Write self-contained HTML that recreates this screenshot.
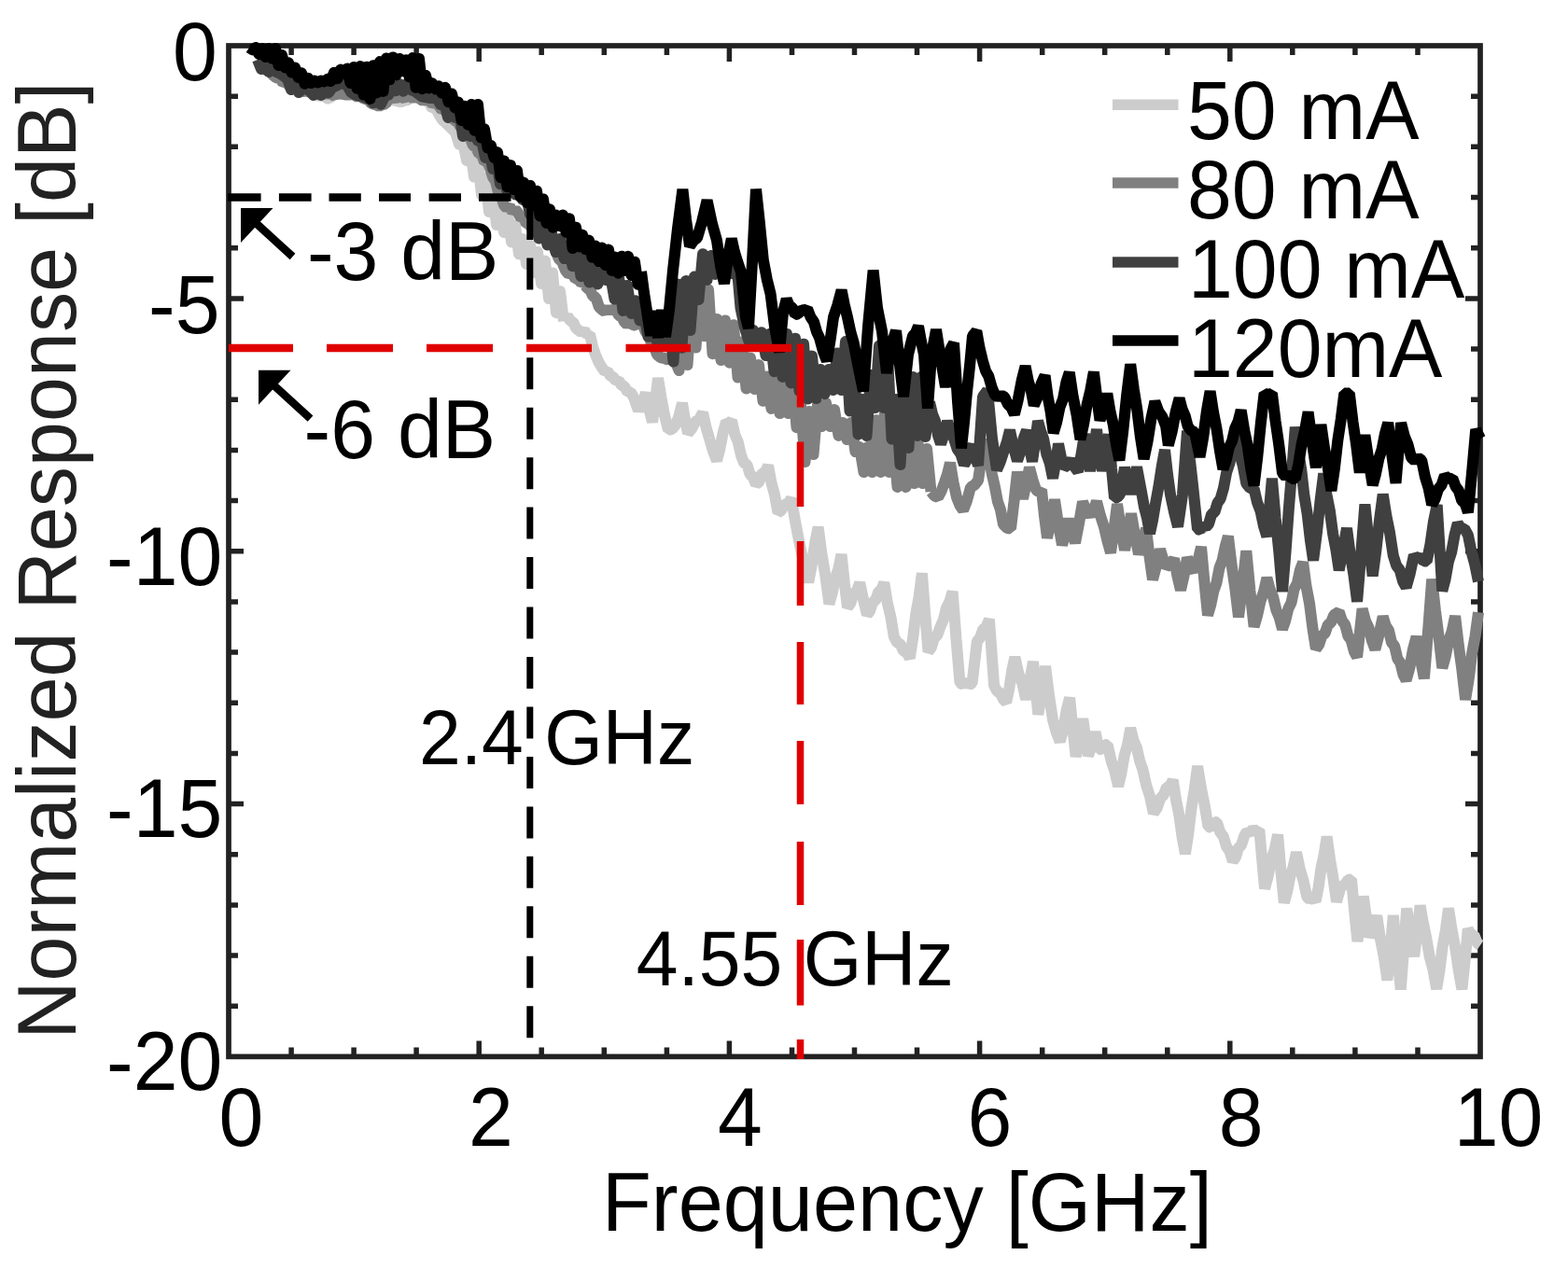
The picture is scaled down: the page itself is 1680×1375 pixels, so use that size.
<!DOCTYPE html><html><head><meta charset="utf-8"><title>Normalized Response vs Frequency</title>
<style>html,body{margin:0;padding:0;background:#fff;}svg{display:block;}</style></head><body>
<svg width="1680" height="1375" viewBox="0 0 1680 1375" font-family="&quot;Liberation Sans&quot;, Arial, Helvetica, sans-serif">
<rect width="1680" height="1375" fill="#fff"/>
<g stroke="#222222" stroke-width="5.7" fill="none">
<rect x="245.0" y="49.0" width="1341.0" height="1083.4"/>
<path d="M312.1,1132.4V1122.4M312.1,49.0V59.0M379.1,1132.4V1122.4M379.1,49.0V59.0M446.1,1132.4V1122.4M446.1,49.0V59.0M513.2,1132.4V1115.4M513.2,49.0V66.0M580.2,1132.4V1122.4M580.2,49.0V59.0M647.3,1132.4V1122.4M647.3,49.0V59.0M714.4,1132.4V1122.4M714.4,49.0V59.0M781.4,1132.4V1115.4M781.4,49.0V66.0M848.5,1132.4V1122.4M848.5,49.0V59.0M915.5,1132.4V1122.4M915.5,49.0V59.0M982.5,1132.4V1122.4M982.5,49.0V59.0M1049.6,1132.4V1115.4M1049.6,49.0V66.0M1116.7,1132.4V1122.4M1116.7,49.0V59.0M1183.7,1132.4V1122.4M1183.7,49.0V59.0M1250.8,1132.4V1122.4M1250.8,49.0V59.0M1317.8,1132.4V1115.4M1317.8,49.0V66.0M1384.8,1132.4V1122.4M1384.8,49.0V59.0M1451.9,1132.4V1122.4M1451.9,49.0V59.0M1519.0,1132.4V1122.4M1519.0,49.0V59.0M245.0,103.2H255.0M1586.0,103.2H1576.0M245.0,157.3H255.0M1586.0,157.3H1576.0M245.0,211.5H255.0M1586.0,211.5H1576.0M245.0,265.7H255.0M1586.0,265.7H1576.0M245.0,319.9H261.0M1586.0,319.9H1570.0M245.0,374.0H255.0M1586.0,374.0H1576.0M245.0,428.2H255.0M1586.0,428.2H1576.0M245.0,482.4H255.0M1586.0,482.4H1576.0M245.0,536.5H255.0M1586.0,536.5H1576.0M245.0,590.7H261.0M1586.0,590.7H1570.0M245.0,644.9H255.0M1586.0,644.9H1576.0M245.0,699.0H255.0M1586.0,699.0H1576.0M245.0,753.2H255.0M1586.0,753.2H1576.0M245.0,807.4H255.0M1586.0,807.4H1576.0M245.0,861.6H261.0M1586.0,861.6H1570.0M245.0,915.7H255.0M1586.0,915.7H1576.0M245.0,969.9H255.0M1586.0,969.9H1576.0M245.0,1024.1H255.0M1586.0,1024.1H1576.0M245.0,1078.2H255.0M1586.0,1078.2H1576.0" stroke-width="5.5"/>
</g>
<g fill="none" stroke-width="12" stroke-linecap="butt">
<polyline stroke="#cccccc" stroke-linejoin="bevel" points="281.0,66.0 284.0,70.8 287.0,69.7 290.0,75.0 293.3,78.6 296.7,78.1 300.0,82.0 303.3,86.5 306.7,83.9 310.0,88.0 313.3,91.4 316.7,90.3 320.0,94.0 323.0,97.5 326.0,94.6 329.0,98.9 332.0,96.4 335.0,100.0 338.0,102.5 341.0,100.1 344.0,105.2 347.0,102.4 350.0,105.3 353.3,106.0 356.7,100.3 360.0,100.0 363.3,101.7 366.7,97.9 370.0,99.0 373.3,101.8 376.7,98.2 380.0,100.0 383.0,102.7 386.0,99.3 389.0,104.8 392.0,101.8 395.0,104.0 398.3,107.8 401.7,104.6 405.0,108.3 408.0,108.8 411.0,103.8 414.0,106.4 417.0,103.7 421.0,107.3 425.0,108.0 429.0,109.5 433.0,108.0 437.0,107.1 441.0,103.0 444.0,102.1 447.0,96.7 452.0,102.0 456.0,107.8 460.0,110.0 463.3,116.5 466.7,115.6 470.0,122.0 474.0,128.5 478.0,132.0"/>
<polyline stroke="#cccccc" stroke-linejoin="round" points="478.0,132.0 488.0,142.0 492.0,154.7 496.0,151.3 500.0,172.0 504.0,160.8 508.0,189.6 512.0,172.6 516.0,209.0 520.0,191.0 524.0,227.0 528.0,207.0 532.0,241.0 536.0,218.8 540.0,249.0 544.0,229.6 548.0,259.4 552.0,241.6 556.0,272.2 560.0,256.0 564.0,283.0 568.0,262.4 572.0,292.0 576.0,270.0 580.0,304.0 584.0,279.6 588.0,320.0 592.0,292.5 596.0,335.2 600.0,312.2 604.0,344.2"/>
<polyline stroke="#cccccc" stroke-linejoin="bevel" points="604.0,344.2 608.0,338.1 611.0,344.1 614.0,344.8 617.0,351.6 620.0,354.0 623.0,356.5 626.0,353.8 629.0,359.1 632.0,358.0 635.0,371.4 638.0,380.0 641.5,388.4 645.0,394.0 648.0,398.3 651.0,397.7 654.0,403.0 657.0,404.0 660.0,408.4 663.0,407.7 666.0,413.0 669.0,414.0 672.3,420.1 675.7,420.1 679.0,426.0 684.0,439.9 688.0,432.0 692.0,421.1 695.5,438.7 699.0,452.3 702.0,431.0 705.0,405.2 708.5,426.3 712.0,445.0 716.0,460.9 720.0,460.2 724.0,455.0 727.5,445.7 731.0,432.1 734.0,449.8 737.0,464.3 741.0,459.6 745.0,452.0 749.0,449.6 753.0,442.2 756.5,457.8 760.0,470.0 764.0,483.3 768.0,493.8 771.3,481.2 774.7,463.6 778.0,452.0 781.0,453.5 784.0,450.9 787.3,465.5 790.7,473.5 794.0,488.0 797.2,496.2 800.4,498.0 803.6,508.5 806.8,511.0 810.0,519.2 813.2,516.4 816.5,507.0 819.8,506.2 823.0,498.8 826.5,517.6 830.0,530.4 833.5,549.4 837.1,547.0 840.7,540.3 844.3,539.7 847.9,534.3 851.8,557.3 855.7,577.6 859.2,594.6 862.7,607.2 866.2,624.0 869.7,605.9 873.1,582.6 876.6,564.9 880.5,594.1 884.5,618.1 888.4,647.3 891.7,635.5 895.0,619.2 898.2,609.9 901.5,594.2 904.8,624.7 908.0,651.1 911.3,646.5 914.6,636.3 917.9,633.3 921.2,624.5 925.1,643.1 929.0,658.9 932.0,654.9 935.1,644.9 938.1,643.7 941.2,634.0 944.2,632.4 947.3,624.5 950.8,646.1 954.3,660.8 957.8,682.3 961.2,688.5 964.6,690.3 968.0,697.8 971.4,699.2 974.8,705.4 978.1,684.2 981.3,657.5 984.6,639.5 987.9,614.4 991.2,658.1 994.5,698.5 997.8,693.9 1001.0,683.4 1004.2,680.9 1007.5,671.8 1010.8,664.2 1014.0,651.3 1017.3,645.0 1020.6,634.0 1024.5,684.9 1028.5,732.0 1031.8,733.6 1035.0,730.0 1038.3,734.4 1041.6,732.0 1046.8,687.5 1050.1,683.3 1053.3,674.1 1056.6,672.2 1059.9,663.8 1065.1,734.7 1068.4,741.1 1071.7,742.3 1074.9,749.4 1078.2,752.6 1081.3,737.9 1084.3,718.4 1087.4,704.3 1091.3,721.6 1095.3,732.5 1099.2,749.3 1103.1,730.5 1107.0,709.1 1112.3,765.7 1116.2,741.6 1120.1,714.1 1124.0,745.2 1128.0,771.3 1131.8,785.0 1135.7,794.8 1139.2,781.6 1142.6,761.2 1146.1,747.9 1149.4,780.6 1152.7,810.8 1156.5,792.8 1160.2,770.4 1165.9,809.9 1169.7,799.3 1173.5,784.5 1177.3,802.8 1180.4,803.2 1183.6,798.1 1186.7,798.2 1190.5,815.0 1194.3,826.4 1198.1,842.6 1201.4,828.8 1204.7,809.6 1208.0,798.3 1211.3,780.3 1214.6,793.8 1217.9,801.1 1221.2,815.8 1224.5,825.1 1228.3,842.1 1232.1,853.7 1235.9,871.5 1239.7,865.8 1243.4,855.3 1246.7,852.1 1250.1,843.6 1253.4,842.8 1256.7,836.0 1260.0,857.2 1263.3,873.3 1266.6,897.2 1269.9,915.0 1273.2,893.8 1276.5,866.2 1279.8,845.8 1283.1,821.1 1286.9,844.4 1290.7,863.1 1294.5,886.0 1297.6,886.9 1300.8,880.6 1303.9,881.4 1307.3,891.9 1310.7,896.3 1314.1,907.5 1317.5,912.2 1320.9,922.8 1323.9,918.9 1326.9,908.8 1330.0,905.7 1333.0,896.2 1336.0,891.2 1339.3,892.9 1342.7,888.0 1346.0,891.1 1349.3,889.2 1355.0,952.3 1358.5,939.7 1362.0,921.5 1365.6,910.5 1369.1,894.5 1372.4,933.3 1375.8,967.4 1379.1,955.7 1382.4,938.9 1385.7,928.8 1389.0,913.4 1392.8,931.5 1396.5,943.8 1400.3,961.2 1403.4,964.5 1406.5,962.0 1409.6,966.2 1412.6,950.9 1415.6,929.6 1418.6,916.0 1421.6,896.7 1425.1,921.3 1428.5,941.6 1432.0,966.3 1436.8,949.6 1440.5,948.9 1444.3,942.8 1448.0,942.4 1451.2,977.2 1454.4,1009.0 1457.6,986.4 1460.8,960.7 1464.0,983.7 1467.2,1004.1 1471.2,994.8 1475.2,981.5 1478.9,1006.0 1482.7,1025.1 1486.4,1050.5 1489.6,1018.1 1492.8,981.1 1496.8,1022.1 1500.8,1060.5 1504.0,1018.6 1507.2,973.5 1511.2,1001.3 1515.2,1024.9 1518.4,999.2 1521.6,970.5 1524.8,988.7 1528.0,1004.0 1531.7,1025.1 1535.5,1039.3 1539.2,1059.9 1542.4,1040.2 1545.6,1014.5 1548.8,997.4 1552.0,973.5 1555.6,996.6 1559.2,1015.4 1562.8,1040.2 1566.4,1060.1 1569.6,1029.6 1572.8,995.5 1576.1,1001.7 1579.4,1002.1 1582.7,1010.7 1586.0,1013.0"/>
<polyline stroke="#808080" stroke-linejoin="bevel" points="279.0,64.0 283.0,72.0 286.0,76.6 289.0,75.7 292.0,80.0 296.0,83.3 300.0,84.0 303.3,88.7 306.7,87.8 310.0,92.0 313.0,94.6 316.0,92.3 319.0,97.1 322.0,93.5 325.0,97.0 328.0,99.4 331.0,95.7 334.0,101.3 337.0,97.8 340.0,100.0 343.0,101.5 346.0,99.0 349.0,102.9 352.0,98.8 355.0,101.0 358.5,103.2 362.0,98.0 365.5,102.3 369.0,100.0 372.7,102.6 376.3,100.0 380.0,102.0 383.5,104.3 387.0,101.7 390.5,107.1 394.0,106.0 398.0,111.2 402.0,112.0 406.0,114.0 410.0,112.0 413.3,111.4 416.7,104.6 420.0,104.0 423.3,106.4 426.7,102.6 430.0,104.0 433.3,105.5 436.7,101.7 440.0,103.0 443.3,106.3 446.7,102.6 450.0,106.0 453.3,108.2 456.7,106.0 460.0,108.0 463.3,111.2 466.7,109.7 470.0,113.0 473.3,118.0 476.7,116.9 480.0,123.7 483.3,122.7 486.7,129.1 490.0,130.0 493.3,136.1 496.7,137.3 500.0,145.9 503.3,146.3 506.7,155.8 510.0,158.0 513.0,164.3 516.0,165.5 519.0,173.6 522.0,173.2 525.0,180.0 528.0,189.8 531.0,194.1 534.0,206.4 537.0,210.4 540.0,220.0 543.0,223.2 546.0,221.1 549.0,226.9 552.0,224.3 555.0,228.0 558.0,233.7 561.0,232.9 564.0,240.0 567.0,240.1 570.0,245.0 573.5,249.0 577.0,248.3 580.5,254.3 584.0,255.0 587.7,261.5 591.3,261.6 595.0,268.0 598.7,277.2 602.3,280.9 606.0,290.0 609.5,294.3 613.0,292.8 616.5,299.0 620.0,299.0 623.0,303.8 626.0,302.4 629.0,309.0 632.0,310.0 635.2,317.4 638.5,318.8 641.8,328.9 645.0,332.0 648.0,333.9 651.0,330.3 654.0,334.1 657.0,330.6 660.0,332.0 663.0,338.0 666.0,339.4 669.0,345.0 672.0,348.0 675.0,345.5 678.0,348.1 681.3,349.1 684.7,344.4 688.0,345.9 691.5,355.0 695.0,360.0 698.0,368.0 701.0,371.5 704.0,380.0 708.0,383.3 712.0,384.0 716.0,385.8 720.0,383.0"/>
<polyline stroke="#808080" stroke-linejoin="round" points="720.0,383.0 723.0,386.0 727.5,397.1 732.0,356.0 736.5,391.0 741.0,328.0 745.5,372.6 750.0,308.9 754.5,360.2 759.0,310.4 763.5,379.2 768.0,342.0 772.5,386.0 777.0,343.5 781.5,388.7 786.0,348.2 790.5,404.6 795.0,366.5 799.5,416.4 804.0,383.6 808.5,417.0 813.0,391.1 817.5,429.8 822.0,403.4 826.5,437.9 831.0,405.2 835.5,443.0 840.0,406.0 844.5,443.0 849.0,406.0 853.5,458.2 858.0,432.7 862.5,494.9 867.0,441.0 871.5,487.1 876.0,433.5 880.5,457.0 885.0,432.0 889.5,457.0 894.0,439.0 898.5,466.9 903.0,453.0 907.5,471.0 912.0,453.0 916.5,484.1 921.0,479.0 925.5,506.0 930.0,479.0 934.5,506.0 939.0,450.2 943.5,506.0 948.0,443.0 952.5,506.0 957.0,469.8 961.5,522.0 966.0,510.0 970.5,522.0 975.0,485.2 979.5,518.0 984.0,477.0 988.5,518.0 993.0,480.9 997.5,527.0"/>
<polyline stroke="#808080" stroke-linejoin="bevel" points="997.5,527.0 1001.2,531.4 1005.0,533.0 1008.5,526.5 1012.0,517.0 1015.0,508.1 1018.0,496.0 1021.5,516.9 1025.0,533.0 1028.5,541.8 1032.0,546.8 1036.0,536.5 1040.0,522.0 1044.0,519.9 1048.0,515.0 1051.0,494.9 1054.0,471.0 1057.0,483.8 1060.0,492.0 1063.0,508.9 1066.0,522.0 1069.0,537.8 1072.0,546.3 1075.0,562.0 1079.0,566.0 1083.0,566.6 1086.5,537.4 1090.0,505.7 1093.0,522.2 1096.0,534.3 1099.5,519.0 1103.0,501.0 1106.5,514.3 1110.0,525.0 1113.0,527.2 1116.0,525.0 1119.0,553.1 1122.0,576.5 1126.0,558.3 1130.0,535.5 1134.0,562.2 1138.0,584.0 1141.5,571.6 1145.0,556.2 1148.5,570.4 1152.0,581.8 1156.0,561.2 1160.0,537.7 1164.0,547.5 1168.0,552.3 1171.5,546.2 1175.0,537.4 1179.0,552.7 1183.0,565.0 1186.5,579.9 1190.0,592.3 1193.5,567.5 1197.0,540.2 1201.0,566.2 1205.0,589.6 1208.5,571.7 1212.0,550.4 1216.0,573.5 1220.0,593.8 1224.0,581.6 1228.0,566.2 1231.5,596.1 1235.0,621.2 1239.0,606.4 1243.0,588.7 1246.5,600.2 1250.0,607.2 1254.0,605.2 1258.0,598.8 1261.5,617.6 1265.0,632.5 1268.5,617.1 1272.0,597.7 1276.0,607.2 1280.0,612.3 1283.5,601.1 1287.0,586.0 1290.5,624.2 1294.0,659.3 1297.1,648.9 1300.3,633.6 1303.4,624.8 1306.5,608.5 1309.6,600.6 1312.8,585.4 1315.9,574.7 1319.6,605.4 1323.3,630.3 1327.0,661.4 1331.2,627.7 1335.3,590.3 1339.4,633.1 1343.6,671.6 1347.0,659.9 1350.5,644.1 1354.0,634.4 1357.4,619.2 1360.7,631.5 1364.0,639.5 1367.4,653.9 1370.7,661.6 1374.0,674.1 1377.2,665.2 1380.3,652.4 1383.5,645.9 1386.6,631.1 1389.8,625.4 1392.9,610.9 1396.1,602.6 1399.5,628.2 1403.0,646.5 1406.5,674.0 1409.9,695.2 1413.1,691.1 1416.3,681.3 1419.6,678.7 1422.8,669.4 1426.0,667.3 1429.2,659.1 1434.7,655.6 1437.9,665.2 1441.2,669.5 1444.4,681.8 1447.6,685.9 1450.9,698.3 1454.1,704.1 1459.6,652.5 1463.0,665.4 1466.5,672.8 1470.0,686.7 1473.4,696.0 1477.6,679.7 1481.7,660.9 1484.8,670.7 1487.9,675.5 1491.0,688.5 1494.2,692.5 1497.3,705.8 1500.4,710.4 1503.5,723.1 1506.6,729.1 1510.3,715.9 1513.9,696.1 1517.6,682.3 1521.8,706.1 1525.9,727.2 1530.1,675.6 1534.2,620.7 1537.9,653.9 1541.6,682.5 1545.3,715.9 1548.8,703.4 1552.2,686.0 1555.6,676.7 1559.1,660.3 1562.8,691.6 1566.4,717.7 1570.1,749.8 1573.6,728.4 1577.0,701.2 1580.5,682.1 1584.0,656.3"/>
<polyline stroke="#404040" stroke-linejoin="round" points="276.0,64.0 280.0,74.0 284.0,70.4 288.0,77.0 292.0,73.5 296.0,77.0 300.0,78.8 304.0,81.4 308.0,84.4 312.0,96.0 316.0,90.6 320.0,99.0 324.0,95.0 328.0,95.3 332.0,97.3 336.0,102.0 340.0,98.0 344.0,102.0 348.0,96.8 352.0,99.4 356.0,93.7 360.0,92.0 364.0,89.7 368.0,89.4 372.0,91.6 376.0,98.6 380.0,101.2 384.0,102.5 388.0,103.3 392.0,105.2 396.0,106.0 400.0,110.3 404.0,106.0 408.0,111.8 412.0,103.3 416.0,101.7 420.0,95.3 424.0,97.3 428.0,90.1 432.0,97.7 436.0,89.8 440.0,96.1 444.0,97.5 448.0,100.4 452.0,103.4 456.0,104.2 460.0,104.9 464.0,104.9 468.0,105.0 472.0,112.0 476.0,109.0 480.0,126.0 484.0,113.3 488.0,126.0 492.0,118.0 496.0,146.0 500.0,133.9 504.0,146.0 508.0,139.6 512.0,150.6 516.0,150.0 520.0,169.0 524.0,160.0 528.0,181.0 532.0,171.0 536.0,197.2 540.0,191.0 544.0,206.8 548.0,196.3 552.0,208.4 556.0,202.0 560.0,214.0 564.0,210.0 568.0,229.7 572.0,228.0 573.0,232.0 577.5,255.5 582.0,241.7 586.5,262.4 591.0,249.6 595.5,270.1 600.0,256.0 604.5,277.1 609.0,263.2 613.5,285.2 618.0,269.7 622.5,296.2 627.0,276.8 631.5,302.6 636.0,285.1 640.5,304.4 645.0,290.9 649.5,300.2 654.0,294.7 658.5,320.5 663.0,297.0 667.5,332.9 672.0,306.0 676.5,336.0 681.0,322.2 685.5,343.6 690.0,336.4 694.5,360.8 699.0,346.0 703.5,365.2 708.0,352.5 712.5,369.0 717.0,341.7 721.5,387.6 726.0,304.5 730.5,372.7 735.0,301.0 739.5,354.1 744.0,296.5 748.5,321.0 753.0,272.2 757.5,300.0 762.0,274.0 766.5,293.9 771.0,275.1 775.5,292.1 780.0,276.7 784.5,293.3 789.0,277.9 793.5,330.0 798.0,351.3 802.5,366.0 807.0,353.8 811.5,366.0 816.0,356.2 820.5,381.0 825.0,357.8 829.5,398.2 834.0,358.0 838.5,403.9 843.0,358.0 847.5,410.4 852.0,362.7 856.5,419.0 861.0,368.7 865.5,427.5 870.0,381.6 874.5,427.1 879.0,396.0 883.5,422.2 888.0,396.0 892.5,418.0 897.0,378.5 901.5,418.0 906.0,366.0 910.5,440.4 915.0,397.0 919.5,465.6 924.0,428.0 928.5,467.0 933.0,401.9 937.5,437.0 942.0,370.5 946.5,437.0 951.0,381.2 955.5,470.6 960.0,428.0 964.5,498.0 969.0,428.0 973.5,479.9 978.0,404.0 982.5,467.0 987.0,404.0 991.5,468.1 996.0,431.0"/>
<polyline stroke="#404040" stroke-linejoin="bevel" points="996.0,431.0 999.0,443.6 1002.0,451.2 1005.0,466.6 1008.0,475.7 1011.5,465.5 1015.0,451.5 1018.5,462.3 1022.0,470.0 1025.7,481.5 1029.3,486.3 1033.0,497.9 1036.0,492.9 1039.0,482.1 1042.0,477.1 1045.0,489.5 1048.0,498.8 1053.0,425.0 1058.0,418.2 1063.0,470.0 1068.0,503.5 1071.5,495.5 1075.0,485.0 1078.5,474.7 1082.0,461.0 1086.0,479.4 1090.0,493.8 1093.3,484.3 1096.7,469.8 1100.0,461.2 1103.0,479.5 1106.0,494.6 1109.0,474.5 1112.0,451.2 1115.0,461.9 1118.0,470.0 1121.3,486.7 1124.7,496.1 1128.0,512.5 1131.0,496.4 1134.0,475.7 1137.0,490.5 1140.0,501.2 1144.0,498.3 1148.0,492.8 1151.5,500.7 1155.0,505.3 1158.5,487.2 1162.0,465.2 1165.0,486.4 1168.0,504.8 1171.5,484.9 1175.0,460.2 1178.0,484.1 1181.0,504.6 1184.5,486.4 1188.0,465.4 1191.0,501.8 1194.0,533.6 1197.0,533.2 1200.0,530.0 1205.0,501.0 1208.5,517.4 1212.0,529.0 1215.0,516.7 1218.0,500.7 1223.0,527.0 1226.0,543.8 1229.0,555.1 1232.0,571.7 1235.0,557.7 1238.0,540.0 1241.3,522.2 1244.7,500.1 1248.0,482.1 1251.0,508.4 1254.0,530.0 1258.0,548.8 1262.0,564.5 1267.0,530.0 1272.0,461.7 1275.0,493.1 1278.0,520.0 1283.0,567.1 1286.0,567.9 1289.0,563.3 1292.0,565.0 1295.1,561.3 1298.2,550.7 1301.4,549.0 1304.5,538.8 1307.6,534.7 1310.9,523.3 1314.2,506.1 1317.6,495.8 1320.9,478.0 1324.2,466.7 1327.9,485.4 1331.6,498.6 1335.3,518.2 1339.4,523.3 1343.6,523.7 1347.0,538.3 1350.5,547.6 1354.0,564.0 1357.4,575.0 1362.9,512.8 1366.6,555.0 1370.3,591.2 1374.0,634.1 1377.5,591.7 1380.9,544.6 1384.3,503.2 1387.8,457.8 1391.0,483.7 1394.2,502.9 1397.4,531.1 1400.7,551.1 1403.9,578.8 1407.1,600.6 1410.8,571.8 1414.5,537.1 1418.2,507.6 1421.5,530.4 1424.8,547.1 1428.1,571.8 1431.4,589.1 1434.7,611.2 1438.8,590.1 1443.0,566.1 1446.7,594.0 1450.4,616.1 1454.1,644.7 1458.2,594.3 1462.4,540.5 1466.6,580.9 1470.7,617.3 1474.4,589.7 1478.0,557.6 1481.7,529.8 1485.4,553.0 1489.1,571.3 1492.8,595.5 1496.2,606.2 1499.7,610.7 1503.1,623.0 1506.6,629.4 1510.8,614.3 1514.9,595.1 1518.4,599.0 1521.8,595.8 1525.2,601.6 1528.7,601.4 1532.4,583.8 1536.0,558.7 1539.7,541.0 1545.3,633.3 1548.6,620.7 1551.9,601.9 1555.2,591.6 1558.5,573.5 1561.8,560.7 1565.5,566.5 1569.2,566.8 1572.9,573.4 1576.6,591.5 1580.3,605.3 1584.0,623.2"/>
<polyline stroke="#000000" stroke-linejoin="round" points="267.0,51.0 270.5,53.3 274.0,51.0 277.5,58.0 281.0,52.0 284.5,61.0 288.0,52.0 291.5,62.7 295.0,52.0 298.5,70.1 302.0,58.9 305.5,72.4 309.0,67.2 312.5,77.6 316.0,72.5 319.5,82.9 323.0,78.3 326.5,89.8 330.0,83.8 333.5,89.0 337.0,86.6 340.5,88.4 344.0,86.5 347.5,87.4 351.0,84.9 354.5,87.0 358.0,77.7 361.5,84.2 365.0,74.6 368.5,78.7 372.0,73.6 375.5,89.0 379.0,71.9 382.5,94.7 386.0,71.1 389.5,101.5 393.0,71.8 396.5,106.0 400.0,70.2 403.5,99.4 407.0,66.1 410.5,97.9 414.0,62.4 417.5,85.3 421.0,61.4 424.5,80.4 428.0,63.0 431.5,76.2 435.0,64.3 438.5,82.4 442.0,62.1 445.5,93.9 449.0,63.0 452.5,95.2 456.0,80.8 459.5,94.4 463.0,89.2 466.5,95.4 470.0,92.2 473.5,99.7 477.0,93.8 480.5,109.2 484.0,100.4 487.5,115.5 491.0,109.4 494.5,129.0 498.0,113.8 501.5,133.7 505.0,112.0 508.5,139.8 512.0,112.0 515.5,147.5 519.0,138.2 522.5,158.5 526.0,156.0 529.5,169.0 533.0,163.3 536.5,190.2 540.0,172.5 543.5,200.3 547.0,177.1 550.5,203.0 554.0,183.0 557.5,211.1 561.0,195.5 564.5,217.1 568.0,199.0 571.5,220.4 575.0,204.7 578.5,231.6 582.0,213.5 585.5,238.9 589.0,224.3 592.5,243.7 596.0,230.5 599.5,242.2 603.0,230.5 606.5,248.9 610.0,234.3 613.5,266.0 617.0,243.8 620.5,264.4 624.0,251.8 627.5,267.3 631.0,257.6 634.5,275.8 638.0,263.6 641.5,280.1 645.0,265.6 648.5,284.0 652.0,267.6 655.5,290.0 659.0,275.6 662.5,292.7 666.0,274.7 669.5,290.0 673.0,274.8 676.5,295.1 680.0,280.7 683.5,304.7 687.0,291.0"/>
<polyline stroke="#000000" stroke-linejoin="bevel" points="687.0,291.0 690.0,313.8 693.0,333.0 697.0,359.6 701.0,333.4 705.0,361.8 709.0,332.2 713.0,360.8 717.0,332.0 721.0,290.0 726.0,245.0 731.4,202.9 735.0,235.0 739.0,263.8 743.0,258.0 747.0,255.0 752.0,238.0 757.6,214.7 763.0,240.0 768.0,257.6 772.0,285.0 776.0,303.9 780.0,275.0 783.8,255.8 786.9,269.8 790.0,280.0 794.0,291.6 799.0,340.0 802.0,351.9 806.0,280.0 810.0,202.7 814.0,240.0 817.8,278.5 821.7,299.2 825.6,315.0 830.0,350.0 835.0,377.5 839.0,335.0 842.7,320.4 845.7,327.8 848.8,329.6 851.8,337.0 854.9,336.5 858.0,332.0 861.5,333.0 865.0,330.9 868.5,339.9 872.0,345.0 875.0,355.5 878.0,362.0 882.0,376.7 885.9,386.9 889.5,364.8 893.0,340.0 897.3,327.1 901.6,311.0 904.8,326.8 908.0,340.0 911.4,356.0 914.7,367.5 920.0,395.0 925.0,419.2 930.0,350.0 935.6,289.7 940.0,330.0 945.0,355.0 950.0,399.8 955.0,370.0 960.0,354.3 965.0,400.0 968.0,425.1 973.0,380.0 978.0,360.0 981.0,356.9 984.0,349.6 987.0,366.1 990.0,380.0 994.0,437.5 998.0,380.0 1003.0,353.3 1008.0,385.0 1013.0,414.8 1018.0,375.0 1022.0,367.7 1026.0,430.0 1030.0,480.3 1033.0,452.7 1036.0,420.0 1039.0,392.5 1042.0,360.0 1046.3,354.8 1049.5,372.7 1052.8,386.4 1056.1,397.6 1059.3,403.3 1062.6,415.1 1065.9,423.0 1069.4,425.8 1072.9,423.5 1076.4,425.7 1079.9,433.3 1083.4,436.4 1086.9,444.1 1090.8,428.2 1094.7,407.8 1098.6,392.5 1101.7,408.2 1104.7,418.1 1107.8,434.3 1111.7,425.6 1115.7,411.1 1119.6,402.6 1122.6,424.9 1125.7,441.4 1128.7,464.0 1132.1,452.8 1135.5,436.4 1139.0,427.6 1142.4,409.6 1145.8,399.1 1149.7,425.3 1153.6,444.8 1157.5,470.9 1161.1,454.5 1164.7,433.3 1168.3,418.4 1171.9,398.7 1175.2,426.0 1178.5,450.5 1182.4,438.4 1186.3,421.8 1189.6,441.4 1192.8,455.2 1196.1,477.1 1199.4,493.3 1203.3,461.4 1207.3,422.4 1211.2,390.4 1214.8,417.1 1218.4,439.7 1222.0,468.9 1225.6,491.9 1229.5,473.2 1233.5,448.3 1237.4,430.2 1241.3,440.9 1245.3,446.7 1249.2,457.0 1251.8,477.2 1255.7,462.4 1259.7,441.4 1263.6,426.9 1266.6,438.5 1269.7,445.6 1272.7,457.0 1276.3,461.6 1280.0,462.9 1285.5,489.6 1289.2,468.6 1292.9,440.5 1296.6,419.3 1300.0,441.6 1303.5,459.5 1307.0,483.3 1310.4,502.8 1313.6,493.6 1316.8,479.5 1320.1,472.7 1323.3,458.7 1326.5,451.9 1329.7,439.6 1333.2,461.2 1336.7,477.8 1340.1,501.5 1343.6,520.3 1347.3,489.4 1350.9,453.0 1354.6,421.4 1358.8,423.2 1362.9,421.4 1366.6,451.5 1370.3,476.9 1374.0,507.1 1377.5,511.0 1380.9,507.8 1384.3,513.2 1387.8,513.0 1391.2,497.5 1394.7,475.8 1398.1,461.1 1401.6,441.5 1405.8,473.6 1409.9,501.0 1415.4,455.2 1419.1,480.8 1422.7,500.9 1426.4,525.8 1429.9,502.2 1433.3,472.1 1436.8,449.1 1440.3,421.4 1445.8,421.4 1449.5,452.0 1453.1,476.5 1456.8,506.5 1462.4,466.3 1466.6,494.7 1470.7,519.8 1474.0,507.8 1477.3,491.7 1480.6,481.7 1483.9,464.8 1487.2,453.0 1491.3,487.4 1495.5,517.7 1501.1,453.3 1504.8,467.4 1508.4,476.3 1512.1,490.5 1515.8,493.9 1519.5,490.5 1523.2,493.3 1526.9,511.1 1530.5,522.6 1534.2,540.8 1537.7,534.5 1541.1,523.8 1544.5,519.8 1548.0,509.6 1552.2,513.4 1556.3,512.6 1559.6,521.5 1562.9,525.7 1566.3,536.7 1569.6,539.4 1572.9,549.1 1577.1,506.2 1581.2,460.3 1586.0,470.0"/>
</g>
<path d="M244,211.6H279.6M298.9,211.6H333.6M352.5,211.6H386.8M406,211.6H440M459.6,211.6H494M513,211.6H547.5" stroke="#000" stroke-width="8.5" fill="none"/>
<path d="M567.8,222.9V256.9M567.8,276.4V310.4M567.8,329.8V363.8M567.8,383.3V417.3M567.8,436.7V470.7M567.8,490.2V524.2M567.8,543.6V577.6M567.8,597.1V631.1M567.8,650.6V684.6M567.8,704.0V738.0M567.8,757.5V791.5M567.8,810.9V844.9M567.8,864.4V898.4M567.8,917.8V951.8M567.8,971.3V1005.3M567.8,1024.7V1058.7M567.8,1078.2V1112.2" stroke="#000" stroke-width="7" fill="none"/>
<path d="M245,373H314M350,373H421M457,373H528M564,373H634M670.5,373H740M777,373H848" stroke="#e00000" stroke-width="8.5" fill="none"/>
<path d="M857.5,368.5V436.6M857.5,473.4V543M857.5,580V649M857.5,688V755M857.5,794V862M857.5,902V970M857.5,1007V1077.5M857.5,1114V1135" stroke="#e00000" stroke-width="7.5" fill="none"/>
<g transform="translate(0,0)"><polygon points="258,223 292.5,223 258,260" fill="#000"/><path d="M273,238L313.5,275" stroke="#000" stroke-width="8.5"/></g>
<g transform="translate(19,173.7)"><polygon points="258,223 292.5,223 258,260" fill="#000"/><path d="M273,238L313.5,275" stroke="#000" stroke-width="8.5"/></g>
<g fill="#000" font-size="86">
<text transform="translate(185,85.7) scale(1,1.035)">0</text>
<text transform="translate(159,357) scale(1,1.035)">-5</text>
<text transform="translate(114,626.6) scale(1,1.035)">-10</text>
<text transform="translate(114,897) scale(1,1.035)">-15</text>
<text transform="translate(114,1167.7) scale(1,1.035)">-20</text>
<text transform="translate(234.5,1227.5) scale(1,1.035)">0</text>
<text transform="translate(502,1227.5) scale(1,1.035)">2</text>
<text transform="translate(769,1227.5) scale(1,1.035)">4</text>
<text transform="translate(1036.5,1227.5) scale(1,1.035)">6</text>
<text transform="translate(1305.7,1227.5) scale(1,1.035)">8</text>
<text transform="translate(1557.8,1227.5) scale(1,1.035)">10</text>
<text transform="translate(328.9,299.6) scale(1,1.035)">-3 dB</text>
<text transform="translate(325.6,490.5) scale(1,1.035)">-6 dB</text>
<text transform="translate(449,818.5) scale(1,1.035)" font-size="80.5">2.4 GHz</text>
<text transform="translate(681.7,1056.2) scale(1,1.035)" font-size="80.5">4.55 GHz</text>
<text transform="translate(645,1318.8) scale(1,1.035)" font-size="86.5">Frequency [GHz]</text>
<text transform="translate(81,1113.8) rotate(-90) scale(1,1.035)" font-size="86.3" fill="#222222">Normalized Response [dB]</text>
<path d="M1192,112.2H1262.5" stroke="#cccccc" stroke-width="11.5"/>
<text transform="translate(1272,149) scale(1,1.035)">50 mA</text>
<path d="M1192,196H1262.5" stroke="#808080" stroke-width="11.5"/>
<text transform="translate(1272,234.2) scale(1,1.035)">80 mA</text>
<path d="M1192,281H1262.5" stroke="#404040" stroke-width="11.5"/>
<text transform="translate(1273,319.3) scale(1,1.035)">100 mA</text>
<path d="M1192,365H1262.5" stroke="#000000" stroke-width="11.5"/>
<text transform="translate(1273,404.3) scale(1,1.035)">120mA</text>
</g>
</svg></body></html>
